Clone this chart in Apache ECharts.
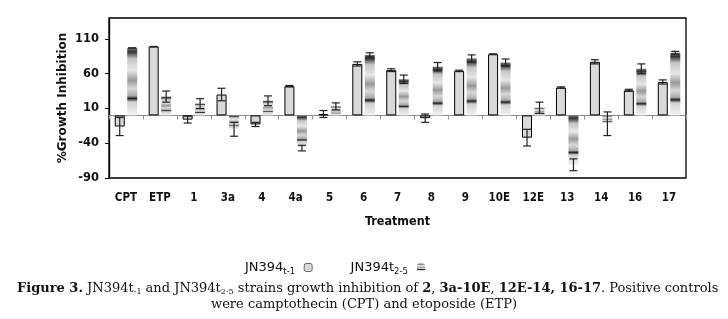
<!DOCTYPE html>
<html><head><meta charset="utf-8">
<script src="https://cdn.jsdelivr.net/npm/echarts@6/dist/echarts.min.js"></script>
<style>html,body{margin:0;padding:0;background:#fff}#c{width:728px;height:319px}</style>
</head><body><div id="c"></div>
<script>
var categories = ['CPT','ETP','1','3a','4','4a','5','6','7','8','9','10E','12E','13','14','16','17'];
var t1Values = [-16, 99, -6, 30, -13, 42, 2, 74, 65, -4, 64, 88, -32, 40, 77, 36, 48];
var t1Errors = [13, 0, 5, 9, 3, 1, 5, 3, 2, 6, 1, 0.5, 12, 1, 3, 1.5, 3];
var t25Values = [97, 27, 17, -20, 21, -47, 13, 87, 52, 70, 82, 76, 11, -71, -12, 67, 90];
var t25Errors = [0, 8, 7, 10, 7, 4, 5, 3, 6, 6, 5, 5, 8, 8.5, 17, 7, 2];
var yTicks = {min: -90, max: 140, interval: 50};

var chart = echarts.init(document.getElementById('c'), null, {renderer: 'canvas'});
var stripe = new echarts.graphic.LinearGradient(0, 0, 0, 1, [
  {offset: 0, color: '#777'}, {offset: 0.06, color: '#333'}, {offset: 0.16, color: '#c4c4c4'},
  {offset: 0.33, color: '#e8e8e8'}, {offset: 0.48, color: '#999'}, {offset: 0.6, color: '#d8d8d8'},
  {offset: 0.71, color: '#aaa'}, {offset: 0.75, color: '#222'}, {offset: 0.8, color: '#d0d0d0'},
  {offset: 1, color: '#f4f4f4'}
]);
function errSeries(vals, errs, off) {
  return {
    type: 'custom', xAxisIndex: 0, yAxisIndex: 0, silent: true, z: 5,
    data: vals.map(function (v, i) { return [i, v, errs[i]]; }),
    renderItem: function (params, api) {
      var i = api.value(0), v = api.value(1), e = api.value(2);
      var hi = api.coord([i, v + e]), lo = api.coord([i, v - e]);
      var x = hi[0] + off, w = 4;
      var st = {stroke: '#222', lineWidth: 1.2};
      return {type: 'group', children: [
        {type: 'line', shape: {x1: x, y1: hi[1], x2: x, y2: lo[1]}, style: st},
        {type: 'line', shape: {x1: x - w, y1: hi[1], x2: x + w, y2: hi[1]}, style: st},
        {type: 'line', shape: {x1: x - w, y1: lo[1], x2: x + w, y2: lo[1]}, style: st}
      ]};
    }
  };
}
var sans = 'DejaVu Sans';
var cond = 'DejaVu Sans Condensed, DejaVu Sans';
var serifRich = {
  b: {fontFamily: 'DejaVu Serif', fontWeight: 'bold', fontSize: 13, fill: '#111'},
  s: {fontFamily: 'DejaVu Serif', fontSize: 8, fill: '#111', padding: [7, 0, 0, 0]}
};
chart.setOption({
  animation: false,
  grid: {left: 109, right: 42, top: 18, bottom: 141, show: true, borderColor: '#000', borderWidth: 1.3, backgroundColor: 'transparent'},
  legend: {
    data: [
      {name: 'JN394t-1', itemStyle: {borderWidth: 0.8, borderColor: '#444'}},
      {name: 'JN394t2-5'}
    ],
    top: 256, left: 240, align: 'right', itemGap: 38,
    itemWidth: 8, itemHeight: 8,
    formatter: function (n) { return n === 'JN394t-1' ? '{a|JN394}{s|t-1}' : '{a|JN394t}{s|2-5}'; },
    textStyle: {padding: [0, 4, 0, 0], rich: {
      a: {fontFamily: sans, fontSize: 13, color: '#111'},
      s: {fontFamily: sans, fontSize: 8.5, color: '#111', padding: [8, 0, 0, 0]}
    }}
  },
  xAxis: [{
    type: 'category', data: categories, position: 'bottom',
    axisLine: {onZero: true, lineStyle: {color: '#8c8c8c', width: 1.2}},
    axisTick: {show: true, length: 4, lineStyle: {color: '#8c8c8c'}},
    axisLabel: {show: false}
  }, {
    type: 'category', data: categories, position: 'bottom',
    axisLine: {show: false}, axisTick: {show: false},
    axisLabel: {margin: 14, fontFamily: cond, fontWeight: 'bold', fontSize: 11.5, color: '#111'},
    name: 'Treatment', nameLocation: 'middle', nameGap: 37,
    nameTextStyle: {fontFamily: cond, fontWeight: 'bold', fontSize: 12.5, color: '#111'}
  }],
  yAxis: {
    type: 'value', min: yTicks.min, max: yTicks.max, interval: yTicks.interval,
    splitLine: {show: false},
    axisLine: {show: true, lineStyle: {color: '#000', width: 1.3}},
    axisTick: {show: true, length: 4, lineStyle: {color: '#000'}},
    axisLabel: {showMaxLabel: false, margin: 10, fontFamily: sans, fontWeight: 'bold', fontSize: 11.5, color: '#111'},
    name: '%Growth Inhibition', nameLocation: 'middle', nameRotate: 90, nameGap: 40,
    nameMoveOverlap: false,
    nameTextStyle: {fontFamily: sans, fontWeight: 'bold', fontSize: 12, color: '#111'}
  },
  series: [
    {name: 'JN394t-1', type: 'bar', data: t1Values, barWidth: 10, barGap: '25%',
     itemStyle: {color: '#d9d9d9', borderColor: '#000', borderWidth: 1}},
    {name: 'JN394t2-5', type: 'bar', data: t25Values, barWidth: 10, barGap: '25%',
     itemStyle: {color: stripe}},
    errSeries(t1Values, t1Errors, -6.25),
    errSeries(t25Values, t25Errors, 6.25)
  ],
  graphic: [{
    type: 'text', left: 17, top: 282,
    style: {
      text: '{b|Figure 3.} JN394t{s|-1} and JN394t{s|2-5} strains growth inhibition of {b|2}, {b|3a-10E}, {b|12E-14, 16-17}. Positive controls',
      font: '13px "DejaVu Serif"', fill: '#111', rich: serifRich
    }
  }, {
    type: 'text', left: 'center', top: 298,
    style: {
      text: 'were camptothecin (CPT) and etoposide (ETP)',
      font: '13px "DejaVu Serif"', fill: '#111'
    }
  }]
});
</script></body></html>
